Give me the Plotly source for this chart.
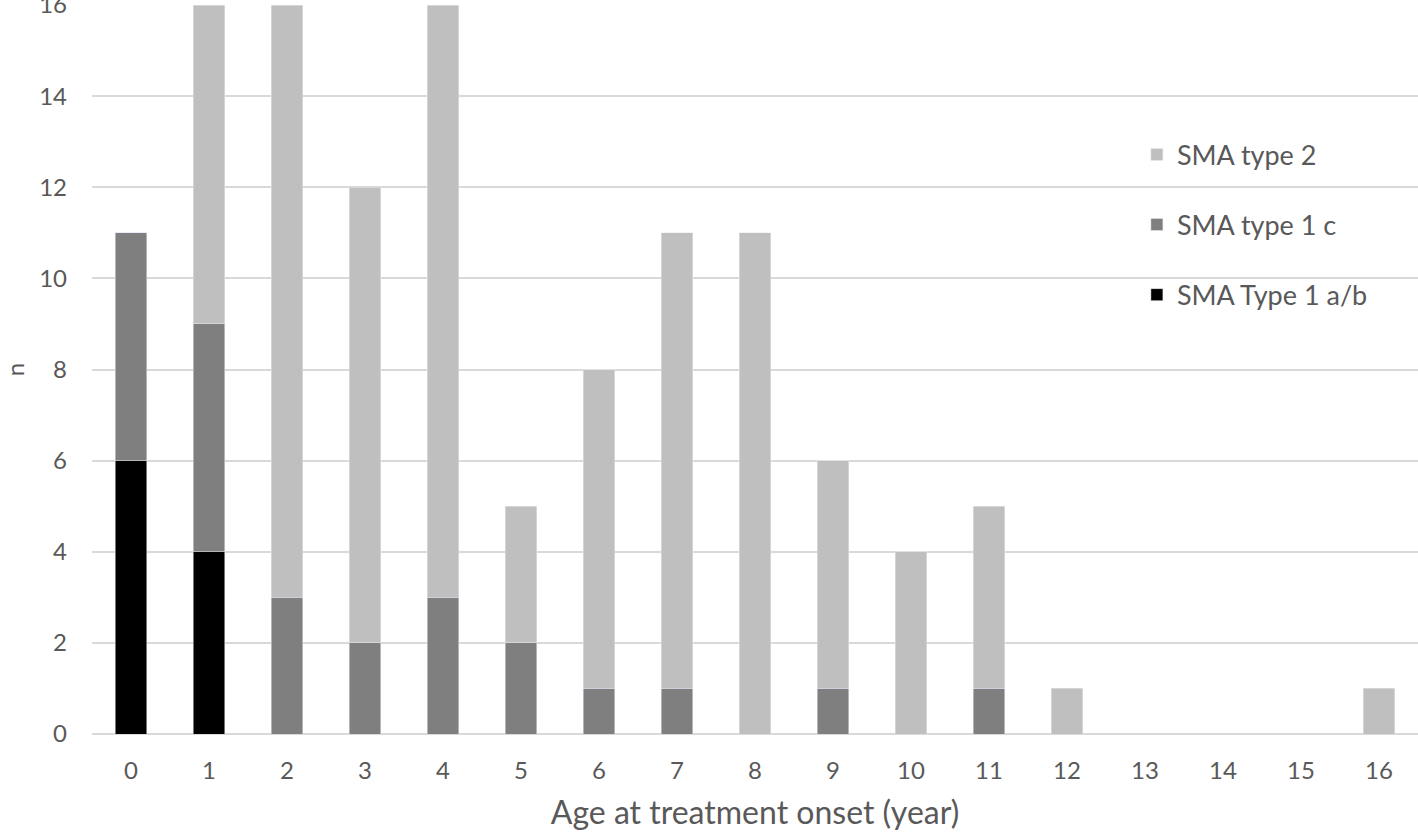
import plotly.graph_objects as go

ages = [str(i) for i in range(17)]
type1ab = [6, 4, 0, 0, 0, 0, 0, 0, 0, 0, 0, 0, 0, 0, 0, 0, 0]
type1c = [5, 5, 3, 2, 3, 2, 1, 1, 0, 1, 0, 1, 0, 0, 0, 0, 0]
type2 = [0, 7, 13, 10, 13, 3, 7, 10, 11, 5, 4, 4, 1, 0, 0, 0, 1]
y_ticks = [0, 2, 4, 6, 8, 10, 12, 14, 16]

FONT = "Lato, Open Sans, sans-serif"
TXT = "#595959"

fig = go.Figure()
fig.add_trace(go.Bar(x=ages, y=type1ab, name="SMA Type 1 a/b", marker_color="#000000",
                     legendgroup="a", legendrank=3, width=0.41))
fig.add_trace(go.Bar(x=ages, y=type1c, name="SMA type 1 c", marker_color="#7f7f7f",
                     legendgroup="b", legendrank=2, width=0.41))
fig.add_trace(go.Bar(x=ages, y=type2, name="SMA type 2", marker_color="#bfbfbf",
                     legendgroup="c", legendrank=1, width=0.41))

fig.update_layout(
    barmode="stack",
    width=1418, height=832,
    margin=dict(l=92, r=0, t=5, b=98, autoexpand=False),
    plot_bgcolor="white", paper_bgcolor="white",
    font=dict(family=FONT, size=24, color=TXT),
    legend=dict(x=0.788, y=0.828, xanchor="left", yanchor="top",
                traceorder="grouped", tracegroupgap=32,
                font=dict(size=27, color=TXT), bgcolor="rgba(0,0,0,0)"),
    xaxis=dict(type="category", range=[-0.5, 16.5], showgrid=False, showline=False,
               automargin=False, ticks="", ticklabelstandoff=20,
               tickfont=dict(size=24, color=TXT),
               title=dict(text="Age at treatment onset (year)", standoff=18,
                          font=dict(size=32, color=TXT))),
    yaxis=dict(range=[0, 16], tickvals=y_ticks, showgrid=True, gridcolor="#d9d9d9",
               gridwidth=2, zeroline=True, zerolinecolor="#d9d9d9", zerolinewidth=2,
               automargin=False, ticks="", ticklen=0, ticklabelstandoff=24,
               ticklabeloverflow="allow", tickfont=dict(size=24, color=TXT),
               title=dict(text="n", standoff=22, font=dict(size=24, color=TXT))),
)

fig.write_html("out.html", config={"displayModeBar": False},
               post_script="document.body.style.margin='0';")
